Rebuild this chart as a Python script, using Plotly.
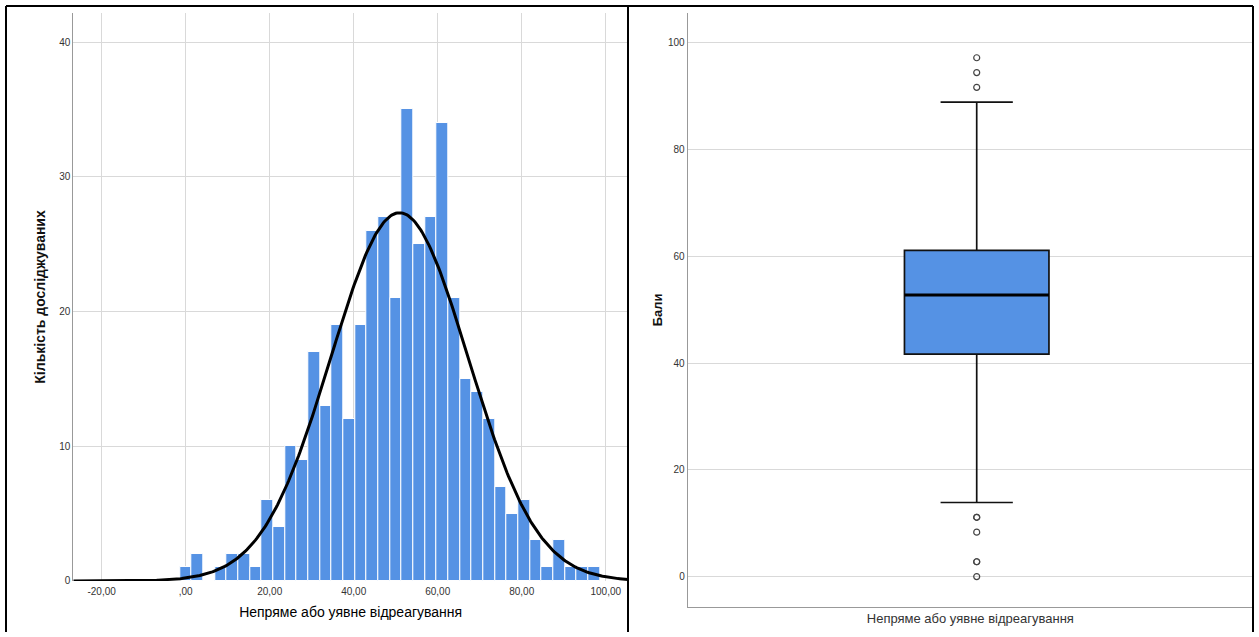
import numpy as np
import plotly.graph_objects as go

# ---------------- data ----------------
scores = [0.00, 2.78, 5.56, 8.33, 11.11, 13.89, 16.67, 19.44, 22.22, 25.00, 27.78, 30.56,
          33.33, 36.11, 38.89, 41.67, 44.44, 47.22, 50.00, 52.78, 55.56, 58.33, 61.11, 63.89,
          66.67, 69.44, 72.22, 75.00, 77.78, 80.56, 83.33, 86.11, 88.89, 91.67, 94.44, 97.22]
counts = [1, 2, 0, 1, 2, 2, 1, 6, 4, 10, 9, 17, 13, 19, 12, 19, 26, 27, 21, 35, 25, 27, 34, 21,
          15, 14, 12, 7, 5, 6, 3, 1, 3, 1, 1, 1]
bin_width = 2.78

hist_xticks = [-20, 0, 20, 40, 60, 80, 100]
hist_xticklabels = ["-20,00", ",00", "20,00", "40,00", "60,00", "80,00", "100,00"]
hist_yticks = [0, 10, 20, 30, 40]
box_yticks = [0, 20, 40, 60, 80, 100]

x_title = "Непряме або уявне відреагування"
hist_y_title = "Кількість досліджуваних"
box_y_title = "Бали"

# ---------------- derived ----------------
raw = np.repeat(np.array(scores), np.array(counts))
n = raw.size
mu = raw.mean()
sd = raw.std(ddof=1)
hist_xrange = [-26.75, 105.3]
xc = np.linspace(hist_xrange[0], hist_xrange[1], 400)
yc = n * bin_width / (sd * np.sqrt(2 * np.pi)) * np.exp(-0.5 * ((xc - mu) / sd) ** 2)
med = float(np.median(raw))

W, H = 1259, 637
H_EFF = 631.0  # observed rendered height used for pixel->paper conversion
BLUE = "#5592E4"
GRID = "#D9D9D9"
FONT = "Liberation Sans, Arial, sans-serif"

def px_x(p):
    return p / W

def px_y(p):
    return max(0.0, 1 - p / H_EFF)

fig = go.Figure()

fig.add_trace(go.Bar(
    x=scores, y=counts, width=bin_width,
    marker=dict(color=BLUE, line=dict(color="white", width=1)),
    xaxis="x", yaxis="y", showlegend=False))

fig.add_trace(go.Scatter(
    x=xc, y=yc, mode="lines", line=dict(color="black", width=3),
    xaxis="x", yaxis="y", showlegend=False, cliponaxis=False))

box_w = 0.25
fig.add_trace(go.Box(
    y=raw, x0=0, width=box_w, boxpoints="outliers", jitter=0, pointpos=0,
    fillcolor=BLUE, line=dict(color="#111111", width=1.7), whiskerwidth=0.5,
    marker=dict(symbol="circle-open", size=6, color="#444444", line=dict(width=1.2)),
    xaxis="x2", yaxis="y2", showlegend=False))

fig.add_trace(go.Scatter(
    x=[-box_w / 2, box_w / 2], y=[med, med], mode="lines",
    line=dict(color="black", width=3), xaxis="x2", yaxis="y2", showlegend=False))

fig.update_layout(
    width=W, height=H,
    margin=dict(l=0, r=0, t=0, b=0),
    paper_bgcolor="white", plot_bgcolor="white",
    font=dict(family=FONT, color="#333333", size=10),
    bargap=0,
    xaxis=dict(
        domain=[px_x(73.3), px_x(628)], range=hist_xrange,
        tickvals=hist_xticks, ticktext=hist_xticklabels,
        showgrid=True, gridcolor=GRID, gridwidth=1, zeroline=False,
        showline=False, ticks="", ticklabelstandoff=3,
        tickfont=dict(size=10, color="#333333"),
        title=dict(text=x_title, font=dict(size=14, color="#000000"), standoff=11),
        anchor="y"),
    yaxis=dict(
        domain=[px_y(580), px_y(13)], range=[0, 42.16],
        tickvals=hist_yticks, showgrid=True, gridcolor=GRID, gridwidth=1,
        zeroline=False, showline=True, linecolor="#999999", linewidth=1,
        ticks="", tickfont=dict(size=10, color="#333333"),
        title=dict(text="<b>" + hist_y_title + "</b>", font=dict(size=14, color="#111111"), standoff=10),
        anchor="x"),
    xaxis2=dict(
        domain=[px_x(687.7), px_x(1253)], range=[-0.5, 0.478],
        showticklabels=False, showgrid=False, zeroline=False,
        showline=True, linecolor="#999999", linewidth=1, ticks="",
        title=dict(text=x_title, font=dict(size=13, color="#333333"), standoff=7),
        anchor="y2"),
    yaxis2=dict(
        domain=[px_y(605.7), px_y(13)], range=[-5.63, 105.6],
        tickvals=box_yticks, showgrid=True, gridcolor=GRID, gridwidth=1,
        zeroline=False, showline=True, linecolor="#999999", linewidth=1,
        ticks="", tickfont=dict(size=10, color="#333333"),
        title=dict(text="<b>" + box_y_title + "</b>", font=dict(size=13, color="#111111"), standoff=2),
        anchor="x2"),
)

# panel frames
frame = dict(color="black", width=2)
shapes = [
    dict(type="line", xref="paper", yref="paper", x0=px_x(6), x1=px_x(628), y0=px_y(6), y1=px_y(6), line=frame),
    dict(type="line", xref="paper", yref="paper", x0=px_x(6), x1=px_x(6), y0=px_y(6), y1=0, line=frame),
    dict(type="line", xref="paper", yref="paper", x0=px_x(628), x1=px_x(628), y0=px_y(6), y1=0, line=frame),
    dict(type="line", xref="paper", yref="paper", x0=px_x(628), x1=px_x(1253), y0=px_y(6), y1=px_y(6), line=frame),
    dict(type="line", xref="paper", yref="paper", x0=px_x(1253), x1=px_x(1253), y0=px_y(6), y1=0, line=frame),
]
fig.update_layout(shapes=shapes)

fig.write_html("out.html", config={"displayModeBar": False},
               post_script="document.body.style.margin='0';")
